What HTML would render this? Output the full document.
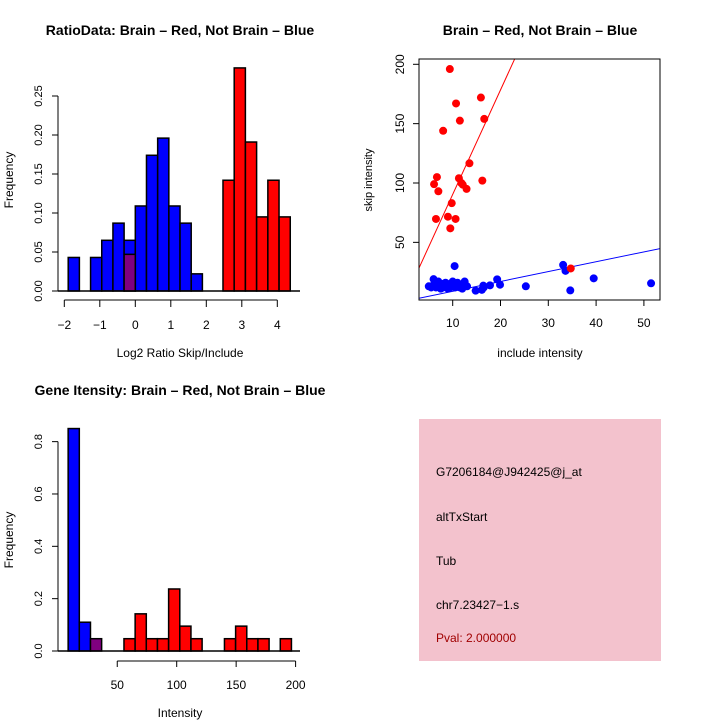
<!DOCTYPE html>
<html><head><meta charset="utf-8"><style>
body{margin:0;background:#fff}
svg{display:block;font-family:"Liberation Sans",sans-serif}
</style></head><body>
<svg id="c" width="720" height="720" viewBox="0 0 720 720"></svg>
<script>
// ---- Panel 1: ratio histogram ----
const ratioBlueStarts=[-1.89,-1.575,-1.26,-0.945,-0.63,-0.315,0,0.315,0.63,0.945,1.26,1.575];
const ratioBlueVals=[0.043,0,0.043,0.065,0.087,0.065,0.109,0.174,0.196,0.109,0.087,0.022];
const ratioRedStarts=[2.47,2.786,3.102,3.418,3.734,4.05];
const ratioRedVals=[0.142,0.286,0.191,0.095,0.142,0.095];
const ratioPurpleStarts=[-0.315];
const ratioPurpleVals=[0.047];
const ratioBinW=0.315;
const ratioXTicks=[-2,-1,0,1,2,3,4];
const ratioYTicks=[0,0.05,0.10,0.15,0.20,0.25];
const ratioYLabels=["0.00","0.05","0.10","0.15","0.20","0.25"];
// ---- Panel 2: scatter ----
const redX=[9.4,10.7,15.9,11.5,16.6,8.0,13.5,6.7,6.1,11.3,11.8,12.1,7.0,12.9,16.2,9.8,9.0,6.5,10.6,9.5,34.7];
const redY=[196,167,172,152.5,154,144,116.6,105,99,104,100,98.6,93,95,102,83,71.6,69.7,69.7,61.8,28];
const blueX=[10.4,33.1,33.6,19.3,19.9,17.8,16.4,16.1,14.8,25.3,34.6,39.5,51.5,5,5.5,6,6,6.5,7,7,7.5,8,8,8.5,9,9,9.5,10,10,10.5,11,11,11.5,12,12.5,12.5,13,6.5,8,9.5,10.5,12,16.5];
const blueY=[30,31,26,18.8,14.3,13.8,13.5,10,9.3,13,9.5,19.7,15.5,13,12,19,14,12,17,13,11,15,12,16,14,11,15,13,17,12,16,14,12,13,15,17,13,15,14,12,15,11,12];
const redFit=[2.4,8.8];
const blueFit=[0.45,0.83];
const scXTicks=[10,20,30,40,50];
const scYTicks=[50,100,150,200];
// ---- Panel 3: intensity histogram ----
const intStart=8.7, intBinW=9.39;
const intBlueVals=[0.85,0.11];
const intPurpleVals=[0,0,0.047];
const intRedVals=[0,0,0,0,0,0.047,0.142,0.047,0.047,0.237,0.095,0.047,0,0,0.047,0.095,0.047,0.047,0,0.047];
const intXTicks=[50,100,150,200];
const intYTicks=[0,0.2,0.4,0.6,0.8];
const intYLabels=["0.0","0.2","0.4","0.6","0.8"];

const svg=document.getElementById('c');
const NS='http://www.w3.org/2000/svg';
function mk(tag,attrs,parent){const e=document.createElementNS(NS,tag);for(const k in attrs)e.setAttribute(k,attrs[k]);(parent||svg).appendChild(e);return e;}
function txt(s,x,y,o,parent){const e=mk('text',Object.assign({x:x,y:y,'font-size':12,'text-anchor':'middle',fill:'#000'},o||{}),parent);e.textContent=s;return e;}

// Panel 1
const p1=mk('g',{});


const r1x=v=>135.3+v*35.5, r1y=v=>291-v*780;
function bars(g,starts,vals,w,col,fx,fy,name){starts.forEach((s,i)=>{if(vals[i]<=0)return;const r=mk('rect',{x:fx(s),y:fy(vals[i]),width:fx(s+w)-fx(s),height:fy(0)-fy(vals[i]),fill:col,stroke:'#000','stroke-width':1.5},g);});}
bars(p1,ratioBlueStarts,ratioBlueVals,ratioBinW,'#0000ff',r1x,r1y,'ratio-blue-bar');
bars(p1,ratioRedStarts,ratioRedVals,ratioBinW,'#ff0000',r1x,r1y,'ratio-red-bar');
bars(p1,ratioPurpleStarts,ratioPurpleVals,ratioBinW,'#800080',r1x,r1y,'ratio-overlap-bar');
mk('line',{x1:58,y1:291,x2:300,y2:291,stroke:'#000','stroke-width':1.5},p1);
mk('line',{x1:58,y1:r1y(0.25),x2:58,y2:291,stroke:'#000'},p1);
ratioYTicks.forEach((t,i)=>{const y=r1y(t);mk('line',{x1:52,y1:y,x2:58,y2:y,stroke:'#000'},p1);txt(ratioYLabels[i],0,0,{transform:`translate(42,${y}) rotate(-90)`,'font-size':11},p1);});
mk('line',{x1:r1x(-2),y1:300,x2:r1x(4),y2:300,stroke:'#000'},p1);
ratioXTicks.forEach(t=>{const x=r1x(t);mk('line',{x1:x,y1:300,x2:x,y2:307,stroke:'#000'},p1);txt(t<0?'\u2212'+(-t):String(t),x,329,{},p1);});
txt('RatioData: Brain \u2013 Red, Not Brain \u2013 Blue',180,35,{'font-weight':'bold','font-size':14},p1);
txt('Log2 Ratio Skip/Include',180,357,{},p1);
txt('Frequency',0,0,{transform:'translate(13,180) rotate(-90)'},p1);

// Panel 2
const p2=mk('g',{});


const sx=v=>452.7+(v-10)*4.78, sy=v=>301.7-v*1.187;
const clip=mk('clipPath',{id:'sc'},p2);mk('rect',{x:419,y:59,width:241,height:241},clip);
const fits=mk('g',{'clip-path':'url(#sc)'},p2);
[[redFit,'#ff0000','red-fit-line'],[blueFit,'#0000ff','blue-fit-line']].forEach(([f,c,n])=>{const l=mk('line',{x1:sx(0),y1:sy(f[0]),x2:sx(60),y2:sy(f[0]+f[1]*60),stroke:c},fits);});
blueX.forEach((x,i)=>{const c=mk('circle',{cx:sx(x),cy:sy(blueY[i]),r:4,fill:'#0000ff'},p2);});
redX.forEach((x,i)=>{const c=mk('circle',{cx:sx(x),cy:sy(redY[i]),r:4,fill:'#ff0000'},p2);});
mk('rect',{x:419,y:59,width:241,height:241,fill:'none',stroke:'#000'},p2);
scXTicks.forEach(t=>{const x=sx(t);mk('line',{x1:x,y1:300,x2:x,y2:306,stroke:'#000'},p2);txt(String(t),x,327,{},p2);});
scYTicks.forEach(t=>{const y=sy(t);mk('line',{x1:413,y1:y,x2:419,y2:y,stroke:'#000'},p2);txt(String(t),0,0,{transform:`translate(404,${y}) rotate(-90)`},p2);});
txt('Brain \u2013 Red, Not Brain \u2013 Blue',540,35,{'font-weight':'bold','font-size':14},p2);
txt('include intensity',540,357,{},p2);
txt('skip intensity',0,0,{transform:'translate(372,180) rotate(-90)','font-size':11},p2);

// Panel 3
const p3=mk('g',{});


const ix=v=>57.8+v*1.189, iy=v=>651-v*261.7;
const st=a=>a.map((_,i)=>intStart+i*intBinW);
bars(p3,st(intBlueVals),intBlueVals,intBinW,'#0000ff',ix,iy,'int-blue-bar');
bars(p3,st(intPurpleVals),intPurpleVals,intBinW,'#800080',ix,iy,'int-overlap-bar');
bars(p3,st(intRedVals),intRedVals,intBinW,'#ff0000',ix,iy,'int-red-bar');
mk('line',{x1:58,y1:651,x2:300,y2:651,stroke:'#000','stroke-width':1.5},p3);
mk('line',{x1:58,y1:iy(0.8),x2:58,y2:651,stroke:'#000'},p3);
intYTicks.forEach((t,i)=>{const y=iy(t);mk('line',{x1:52,y1:y,x2:58,y2:y,stroke:'#000'},p3);txt(intYLabels[i],0,0,{transform:`translate(42,${y}) rotate(-90)`,'font-size':11},p3);});
mk('line',{x1:ix(50),y1:661,x2:ix(200),y2:661,stroke:'#000'},p3);
intXTicks.forEach(t=>{const x=ix(t);mk('line',{x1:x,y1:661,x2:x,y2:667,stroke:'#000'},p3);txt(String(t),x,689,{},p3);});
txt('Gene Itensity: Brain \u2013 Red, Not Brain \u2013 Blue',180,395,{'font-weight':'bold','font-size':14},p3);
txt('Intensity',180,717,{},p3);
txt('Frequency',0,0,{transform:'translate(13,540) rotate(-90)'},p3);

// Panel 4
const p4=mk('g',{});


mk('rect',{x:419,y:419,width:242,height:242,fill:'#f3c2cd'},p4);
[['G7206184@J942425@j_at',476,'#000'],['altTxStart',521,'#000'],['Tub',565,'#000'],['chr7.23427\u22121.s',609,'#000'],['Pval: 2.000000',642,'#a00000']].forEach(([s,y,c],i)=>{const t=txt(s,436,y,{'text-anchor':'start',fill:c},p4);});
</script>
</body></html>
